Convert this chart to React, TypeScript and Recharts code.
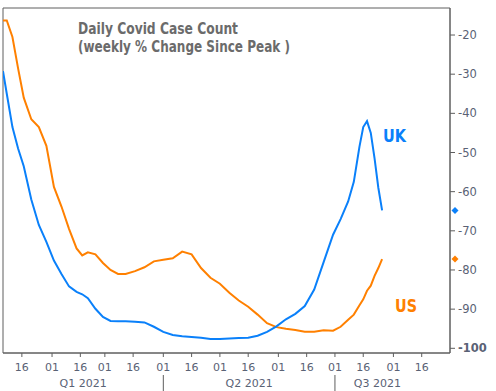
import React from 'react';
import { LineChart, Line, XAxis, YAxis, ReferenceArea, ReferenceDot } from 'recharts';

// day index: Jan 1 2021 = 0
const days = [5, 7, 10, 13, 16, 20, 24, 28, 32, 36, 40, 44, 47, 50, 54, 58, 62, 66, 70, 75, 80, 85, 90, 95, 100, 105, 110, 115, 120, 125, 130, 135, 140, 145, 150, 155, 160, 165, 170, 175, 180, 184, 188, 191, 194, 196, 198, 200, 202, 204, 206];
const usValues = [-16.3, -16.3, -20.5, -28.5, -36, -41.5, -43.5, -48.3, -58.8, -63.8, -69.5, -74.5, -76.3, -75.5, -76.0, -78.2, -80.0, -81.0, -81.0, -80.3, -79.3, -77.8, -77.4, -77.0, -75.3, -76.0, -79.5, -82.0, -83.5, -85.8, -87.8, -89.4, -91.4, -93.6, -94.6, -95.0, -95.3, -95.8, -95.8, -95.4, -95.5, -94.5, -92.7, -91.4, -89.0, -87.5, -85.3, -84.0, -81.5, -79.5, -77.2];
const ukValues = [-29.2, -35, -43.5, -49, -53.5, -62, -68.5, -72.8, -77.6, -81, -84.2, -85.6, -86.2, -87.2, -89.9, -92.0, -93.0, -93.1, -93.1, -93.2, -93.4, -94.5, -95.8, -96.6, -96.9, -97.1, -97.3, -97.6, -97.6, -97.5, -97.4, -97.3, -96.8, -95.8, -94.4, -92.6, -91.2, -89.2, -85.0, -78.0, -71.0, -67.0, -62.5, -57.5, -48.5, -43.5, -42.0, -45.0, -51.5, -59.0, -64.8];

const tickDays = [15, 31, 46, 59, 74, 90, 105, 120, 135, 151, 166, 181, 196, 212, 227];
const tickLabels = ['16', '01', '16', '01', '16', '01', '16', '01', '16', '01', '16', '01', '16', '01', '16'];
const quarterNames = ['Q1 2021', 'Q2 2021', 'Q3 2021'];
const quarterStarts = [5, 90, 181];
const quarterEnds = [90, 181, 226];
const yTicks = [-20, -30, -40, -50, -60, -70, -80, -90, -100];

const X_DOMAIN: [number, number] = [5, 242];
const Y_DOMAIN: [number, number] = [-101.2, -13.1];

const UK_COLOR = '#0a80fa';
const US_COLOR = '#ff8000';
const AXIS_COLOR = '#5e5e5e';
const TICK_COLOR = '#5a6275';
const FONT = '"DejaVu Sans", sans-serif';

const data = days.map((d, i) => ({ day: d, us: usValues[i], uk: ukValues[i] }));

const quarterCenters = quarterStarts.map((s, i) => (s + quarterEnds[i]) / 2);
const quarterBounds = quarterStarts.slice(1);
const allTicks = Array.from(new Set([...tickDays, ...quarterCenters])).sort((a, b) => a - b);

const DayTick = (props: any) => {
  const { x, y, payload } = props;
  const v = payload.value;
  const di = tickDays.indexOf(v);
  const qi = quarterCenters.indexOf(v);
  return (
    <g>
      {di >= 0 && <line x1={x} x2={x} y1={y} y2={y + 4} stroke={AXIS_COLOR} />}
      {di >= 0 && (
        <text x={x} y={y + 18} textAnchor="middle" fill={TICK_COLOR} fontSize={11} fontFamily={FONT}>
          {tickLabels[di]}
        </text>
      )}
      {quarterBounds.includes(v) && <line x1={x} x2={x} y1={y + 22} y2={y + 38} stroke={AXIS_COLOR} />}
      {qi >= 0 && (
        <text x={x} y={y + 34} textAnchor="middle" fill={TICK_COLOR} fontSize={11} fontFamily={FONT}>
          {quarterNames[qi]}
        </text>
      )}
    </g>
  );
};

const ValueTick = (props: any) => {
  const { x, y, payload } = props;
  return (
    <text x={x} y={y} dy="0.355em" textAnchor="start" fill={TICK_COLOR} fontSize={11.5} fontFamily={FONT}
      fontWeight={payload.value === -100 ? 'bold' : 'normal'}>
      {payload.value}
    </text>
  );
};

const Diamond = (color: string) => (props: any) => {
  const { cx, cy } = props;
  const px = cx + 5;
  return <polygon points={`${px},${cy - 3.5} ${px + 3.5},${cy} ${px},${cy + 3.5} ${px - 3.5},${cy}`} fill={color} />;
};

export default function App() {
  return (
    <div style={{ position: 'absolute', left: 0, top: 0, width: 496, height: 391, background: '#fff' }}>
      <LineChart width={496} height={391} data={data} margin={{ top: 8, right: 0, bottom: 0, left: 3 }}>
        <XAxis dataKey="day" type="number" domain={X_DOMAIN} allowDataOverflow ticks={allTicks} interval={0}
          height={38} tickSize={0} tickMargin={0} tick={<DayTick />}
          axisLine={{ stroke: AXIS_COLOR }} tickLine={false} />
        <YAxis orientation="right" type="number" domain={Y_DOMAIN} allowDataOverflow ticks={yTicks} interval={0}
          width={46} tickSize={5} tickMargin={3} tick={<ValueTick />}
          axisLine={{ stroke: AXIS_COLOR }} tickLine={{ stroke: AXIS_COLOR }} />
        <ReferenceArea x1={X_DOMAIN[0]} x2={X_DOMAIN[1]} y1={Y_DOMAIN[0]} y2={Y_DOMAIN[1]}
          fill="none" stroke={AXIS_COLOR} strokeWidth={1} />
        <Line type="linear" dataKey="us" stroke={US_COLOR} strokeWidth={2} dot={false} isAnimationActive={false} />
        <Line type="linear" dataKey="uk" stroke={UK_COLOR} strokeWidth={2} dot={false} isAnimationActive={false} />
        <ReferenceDot x={X_DOMAIN[1]} y={ukValues[ukValues.length - 1]} shape={Diamond(UK_COLOR)} />
        <ReferenceDot x={X_DOMAIN[1]} y={usValues[usValues.length - 1]} shape={Diamond(US_COLOR)} />
      </LineChart>
      <svg width={496} height={391} style={{ position: 'absolute', left: 0, top: 0, pointerEvents: 'none' }}>
        <text x={78} y={34} fontFamily={FONT} fontWeight="bold" fontSize={15.5} fill="#6b6b6b"
          textLength={160} lengthAdjust="spacingAndGlyphs">Daily Covid Case Count</text>
        <text x={78} y={52} fontFamily={FONT} fontWeight="bold" fontSize={15.5} fill="#6b6b6b"
          textLength={212} lengthAdjust="spacingAndGlyphs">(weekly % Change Since Peak )</text>
        <text x={383} y={142} fontFamily={FONT} fontWeight="bold" fontSize={18} fill={UK_COLOR}
          textLength={23} lengthAdjust="spacingAndGlyphs">UK</text>
        <text x={395} y={312} fontFamily={FONT} fontWeight="bold" fontSize={18} fill={US_COLOR}
          textLength={22} lengthAdjust="spacingAndGlyphs">US</text>
      </svg>
    </div>
  );
}
